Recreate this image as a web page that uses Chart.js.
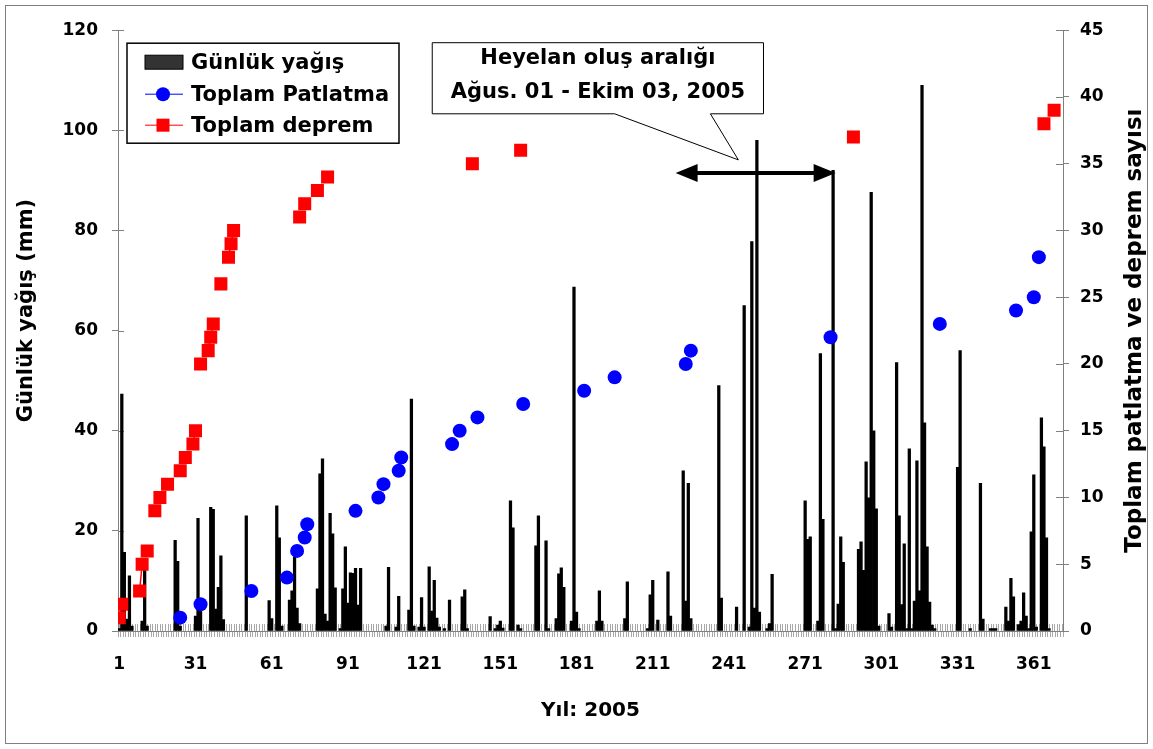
<!DOCTYPE html>
<html>
<head>
<meta charset="utf-8">
<script src="https://cdn.jsdelivr.net/npm/chart.js@4.4.1/dist/chart.umd.min.js"></script>
<style>
  html, body { margin: 0; padding: 0; background: #fff; }
  #frame { position: absolute; left: 5px; top: 5px; width: 1141px; height: 737px; border: 1px solid #7f7f7f; }
  canvas { display: block; }
</style>
</head>
<body>
<div id="frame"><canvas id="chart" width="1141" height="737"></canvas></div>
<script>
// Daily rainfall (mm) - day of year and value
const rainDays = [1, 2, 3, 4, 5, 6, 10, 11, 12, 23, 24, 25, 31, 32, 33, 37, 38, 39, 40, 41, 42, 51, 60, 61, 63, 64, 65,
  68, 69, 70, 71, 72, 79, 80, 81, 82, 83, 84, 85, 86, 88, 89, 90, 91, 92, 93, 94, 95, 96, 106, 107, 110, 111,
  115, 116, 117, 119, 120, 121, 123, 124, 125, 126, 127, 129, 131, 136, 137, 138, 147, 149, 150, 151, 152,
  155, 156, 158, 159, 165, 166, 169, 170, 173, 174, 175, 176, 179, 180, 181, 182, 189, 190, 191, 200, 201,
  209, 210, 211, 213, 217, 218, 223, 224, 225, 226, 237, 238, 244, 247, 249, 250, 251, 252, 253, 256, 257, 258,
  271, 272, 273, 276, 277, 278, 282, 283, 284, 285, 286, 292, 293, 294, 295, 296, 297, 298, 299, 300,
  304, 305, 307, 308, 309, 310, 311, 312, 313, 314, 315, 316, 317, 318, 319, 320, 321, 322, 331, 332, 336,
  340, 341, 344, 345, 346, 350, 351, 352, 353, 355, 356, 357, 358, 359, 360, 361, 362, 364, 365, 366, 367];
const rainValues = [0.5, 47.3, 15.7, 2.4, 11, 1, 2, 14, 1, 18.1, 13.9, 1, 3, 22.5, 4, 24.7, 24.3, 4.4, 8.7, 15, 2.3, 23, 6.1, 2.5, 25, 18.6, 1,
  6.2, 8, 14.8, 4.6, 1.5, 8.4, 31.4, 34.4, 3.4, 2, 23.5, 19.4, 8.6, 0.5, 8.4, 16.8, 5.6, 11.6, 11.5, 12.5, 5.2, 12.5, 1, 12.7, 0.8, 6.9,
  4.2, 46.3, 1, 0.8, 6.7, 0.8, 12.8, 4, 10.1, 2.6, 0.8, 0.5, 6.2, 6.8, 8.2, 0.5, 2.9, 0.5, 1.2, 2, 0.6,
  26, 20.6, 1.2, 0.5, 17, 23, 18, 0.5, 2.5, 11.4, 12.6, 8.7, 2, 68.7, 3.8, 0.5, 2, 8, 2, 2.5, 9.8,
  0.5, 7.2, 10.1, 2.2, 11.8, 3, 32, 6, 29.5, 2.5, 49, 6.6, 4.8, 65, 0.8, 77.8, 4.6, 98, 3.8, 0.5, 1.5, 11.3,
  26, 18.3, 18.8, 2, 55.4, 22.3, 92, 0.5, 5.4, 18.8, 13.7, 16.3, 17.8, 12.1, 33.8, 26.6, 87.6, 40, 24.4, 1,
  3.5, 0.8, 53.6, 23, 5.3, 17.4, 0.5, 36.4, 0.5, 6, 34, 8, 109, 41.6, 16.8, 5.8, 1.2, 0.5, 32.7, 56, 0.5,
  29.5, 2.4, 0.5, 0.5, 0.5, 4.8, 2, 10.5, 6.8, 1.3, 2, 7.6, 3, 0.5, 19.8, 31.2, 0.8, 42.6, 36.8, 18.6, 0.5];

// Cumulative blasting count
const blastDays = [25, 33, 53, 67, 71, 74, 75, 94, 103, 105, 111, 112, 132, 135, 142, 160, 184, 196, 224, 226, 281, 324, 354, 361, 363];
const blastTotals = [1, 2, 3, 4, 6, 7, 8, 9, 10, 11, 12, 13, 14, 15, 16, 17, 18, 19, 20, 21, 22, 23, 24, 25, 28];

// Cumulative earthquake count
const quakeDays = [1, 2, 9, 10, 12, 15, 17, 20, 25, 27, 30, 31, 33, 36, 37, 38, 41, 44, 45, 46, 72, 74, 79, 83, 140, 159, 290, 365, 369];
const quakeTotals = [1, 2, 3, 5, 6, 9, 10, 11, 12, 13, 14, 15, 20, 21, 22, 23, 26, 28, 29, 30, 31, 32, 33, 34, 35, 36, 37, 38, 39];

const xTickLabels = [1, 31, 61, 91, 121, 151, 181, 211, 241, 271, 301, 331, 361];
const leftTicks = [0, 20, 40, 60, 80, 100, 120];
const rightTicks = [0, 5, 10, 15, 20, 25, 30, 35, 40, 45];
const lastDay = 372;

// Landslide period annotation (data units)
const calloutText = ['Heyelan oluş aralığı', 'Ağus. 01 - Ekim 03, 2005'];
const arrowDays = [220, 283];
const arrowLevel = 91.5;

const FONT = 'DejaVu Sans';

// one entry per day so that only consecutive days get joined by a line
function dailySeries(days, values) {
  const out = [];
  for (let d = 1; d <= lastDay; d++) {
    const i = days.indexOf(d);
    out.push({ x: d, y: i >= 0 ? values[i] : null });
  }
  return out;
}

const allDays = [];
for (let d = 1; d <= lastDay; d++) allDays.push(d);

const decor = {
  id: 'decor',
  beforeDatasetsDraw(chart) {
    const { ctx, chartArea: a, scales } = chart;
    ctx.save();
    ctx.lineWidth = 1;
    ctx.strokeStyle = '#a8a8a8';
    ctx.beginPath();
    scales.x.ticks.forEach(t => {
      const px = Math.round(scales.x.getPixelForValue(t.value)) + 0.5;
      ctx.moveTo(px, a.bottom);
      ctx.lineTo(px, a.bottom - 7);
    });
    ctx.stroke();
    ctx.strokeStyle = '#808080';
    ctx.beginPath();
    scales.y.ticks.forEach(t => {
      const py = Math.round(scales.y.getPixelForValue(t.value)) + 0.5;
      ctx.moveTo(a.left, py);
      ctx.lineTo(a.left + 6, py);
    });
    scales.y2.ticks.forEach(t => {
      const py = Math.round(scales.y2.getPixelForValue(t.value)) + 0.5;
      ctx.moveTo(a.right - 7, py);
      ctx.lineTo(a.right, py);
    });
    ctx.stroke();
    ctx.restore();
  },
  afterDatasetsDraw(chart) {
    const { ctx, chartArea: a, scales } = chart;
    const x = scales.x, y = scales.y;
    ctx.save();

    // double arrow for the landslide period
    const x1 = x.getPixelForValue(arrowDays[0]);
    const x2 = x.getPixelForValue(arrowDays[1]);
    const ya = y.getPixelForValue(arrowLevel);
    ctx.strokeStyle = '#000';
    ctx.fillStyle = '#000';
    ctx.lineWidth = 4;
    ctx.beginPath();
    ctx.moveTo(x1 + 15, ya);
    ctx.lineTo(x2 - 15, ya);
    ctx.stroke();
    ctx.beginPath();
    ctx.moveTo(x1, ya); ctx.lineTo(x1 + 22, ya - 9); ctx.lineTo(x1 + 22, ya + 9); ctx.closePath();
    ctx.moveTo(x2, ya); ctx.lineTo(x2 - 22, ya - 9); ctx.lineTo(x2 - 22, ya + 9); ctx.closePath();
    ctx.fill();

    // callout box with tail
    const bl = x.getPixelForValue(124.2), br = x.getPixelForValue(254.6);
    const bt = y.getPixelForValue(117.5), bb = y.getPixelForValue(103.3);
    const t1 = x.getPixelForValue(196), t2 = x.getPixelForValue(233.7);
    const tx = x.getPixelForValue(244.7), ty = y.getPixelForValue(94.1);
    ctx.lineWidth = 1;
    ctx.beginPath();
    ctx.moveTo(bl, bt); ctx.lineTo(br, bt); ctx.lineTo(br, bb); ctx.lineTo(t2, bb);
    ctx.lineTo(tx, ty); ctx.lineTo(t1, bb); ctx.lineTo(bl, bb); ctx.closePath();
    ctx.fillStyle = '#fff';
    ctx.fill();
    ctx.stroke();
    ctx.fillStyle = '#000';
    ctx.font = 'bold 21px "' + FONT + '"';
    ctx.textAlign = 'center';
    ctx.textBaseline = 'middle';
    ctx.fillText(calloutText[0], (bl + br) / 2, bt + 16);
    ctx.fillText(calloutText[1], (bl + br) / 2, bt + 50);

    // legend box
    const ds = chart.data.datasets;
    const L = a.left + 9, T = a.top + 13;
    ctx.fillStyle = '#fff';
    ctx.fillRect(L, T, 272, 100);
    ctx.lineWidth = 1.5;
    ctx.strokeStyle = '#000';
    ctx.strokeRect(L, T, 272, 100);
    const rows = [T + 19, T + 51, T + 82];
    // rainfall swatch
    ctx.fillStyle = '#333';
    ctx.fillRect(L + 18, rows[0] - 7, 38, 14);
    ctx.lineWidth = 1;
    ctx.strokeRect(L + 18, rows[0] - 7, 38, 14);
    // blasting
    ctx.strokeStyle = ds[1].borderColor;
    ctx.beginPath(); ctx.moveTo(L + 18, rows[1]); ctx.lineTo(L + 56, rows[1]); ctx.stroke();
    ctx.fillStyle = ds[1].pointBackgroundColor;
    ctx.beginPath(); ctx.arc(L + 36, rows[1], 7, 0, Math.PI * 2); ctx.fill();
    // earthquakes
    ctx.strokeStyle = ds[0].borderColor;
    ctx.beginPath(); ctx.moveTo(L + 18, rows[2]); ctx.lineTo(L + 56, rows[2]); ctx.stroke();
    ctx.fillStyle = ds[0].pointBackgroundColor;
    ctx.fillRect(L + 29.5, rows[2] - 6.5, 13, 13);
    ctx.fillStyle = '#000';
    ctx.textAlign = 'left';
    ctx.fillText(ds[2].label, L + 64, rows[0] + 1);
    ctx.fillText(ds[1].label, L + 64, rows[1] + 1);
    ctx.fillText(ds[0].label, L + 64, rows[2] + 1);

    // axis titles, both reading bottom to top
    ctx.textAlign = 'center';
    ctx.save();
    ctx.translate(scales.y.left + 21, (a.top + a.bottom) / 2 - 20);
    ctx.rotate(-Math.PI / 2);
    ctx.font = 'bold 21px "' + FONT + '"';
    ctx.fillText('Günlük yağış (mm)', 0, 0);
    ctx.restore();
    ctx.translate(scales.y2.right - 12, (a.top + a.bottom) / 2);
    ctx.rotate(-Math.PI / 2);
    ctx.font = 'bold 23px "' + FONT + '"';
    ctx.fillText('Toplam patlatma ve deprem sayısı', 0, 0);
    ctx.restore();
  }
};

const tickFont = { family: FONT, size: 17, weight: 'bold' };

new Chart(document.getElementById('chart'), {
  type: 'bar',
  data: {
    datasets: [
      {
        type: 'line',
        label: 'Toplam deprem',
        data: dailySeries(quakeDays, quakeTotals),
        yAxisID: 'y2',
        order: 1,
        borderColor: '#ff0000',
        borderWidth: 1.5,
        pointStyle: 'rect',
        pointRadius: 9.2,
        pointBackgroundColor: '#ff0000',
        pointBorderColor: '#ff0000',
        pointBorderWidth: 0,
        spanGaps: false
      },
      {
        type: 'line',
        label: 'Toplam Patlatma',
        data: dailySeries(blastDays, blastTotals),
        yAxisID: 'y2',
        order: 2,
        borderColor: '#0000ff',
        borderWidth: 1,
        pointStyle: 'circle',
        pointRadius: 7,
        pointBackgroundColor: '#0000ff',
        pointBorderColor: '#0000ff',
        pointBorderWidth: 0,
        spanGaps: false
      },
      {
        label: 'Günlük yağış',
        data: rainDays.map((d, i) => ({ x: d, y: rainValues[i] })),
        yAxisID: 'y',
        order: 3,
        backgroundColor: '#000',
        barThickness: 2.6
      }
    ]
  },
  options: {
    responsive: false,
    animation: false,
    events: [],
    layout: { padding: { top: 22, bottom: 20, left: 0, right: 0 } },
    plugins: { legend: { display: false }, tooltip: { enabled: false } },
    scales: {
      x: {
        type: 'linear',
        min: 0.5,
        max: lastDay + 0.5,
        offset: false,
        afterBuildTicks: axis => { axis.ticks = allDays.map(v => ({ value: v })); },
        ticks: {
          autoSkip: false, maxRotation: 0, minRotation: 0, padding: 17,
          color: '#000', font: tickFont,
          callback: v => xTickLabels.includes(v) ? String(v) : ''
        },
        grid: { drawOnChartArea: false, tickLength: 6, color: '#a8a8a8' },
        border: { color: '#808080' },
        title: { display: true, text: 'Yıl: 2005', color: '#000', font: { family: FONT, size: 20, weight: 'bold' }, padding: 0 },
        afterFit: s => { s.height = 92; }
      },
      y: {
        position: 'left',
        min: 0,
        max: 120,
        afterBuildTicks: axis => { axis.ticks = leftTicks.map(v => ({ value: v })); },
        ticks: { padding: 14, color: '#000', font: tickFont },
        grid: { drawOnChartArea: false, tickLength: 6, color: '#808080' },
        border: { color: '#808080' },
        afterFit: s => { s.width = 112; }
      },
      y2: {
        position: 'right',
        min: 0,
        max: 45,
        afterBuildTicks: axis => { axis.ticks = rightTicks.map(v => ({ value: v })); },
        ticks: { padding: 11, color: '#000', font: tickFont },
        grid: { drawOnChartArea: false, tickLength: 6, color: '#808080' },
        border: { color: '#808080' },
        afterFit: s => { s.width = 84; }
      }
    }
  },
  plugins: [decor]
});
</script>
</body>
</html>
